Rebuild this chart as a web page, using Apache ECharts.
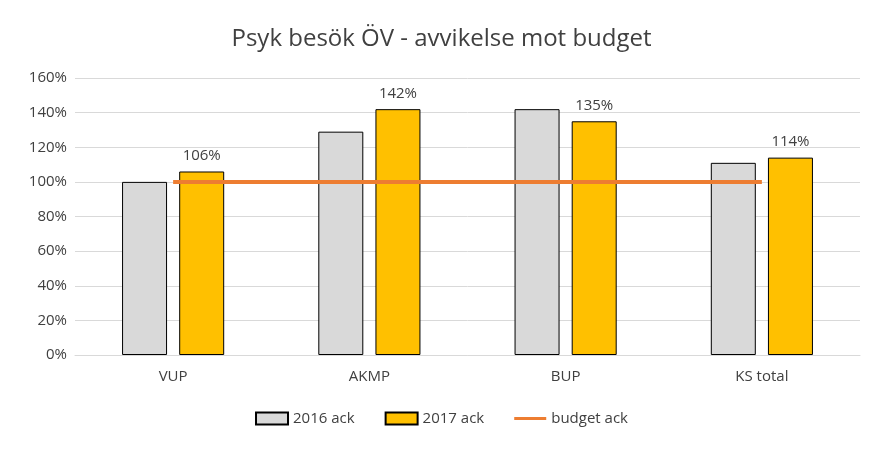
<!DOCTYPE html>
<html><head><meta charset="utf-8">
<script src="https://cdn.jsdelivr.net/npm/echarts@6/dist/echarts.min.js"></script>
<style>html,body{margin:0;padding:0;background:#fff}#c{width:883px;height:451px}</style>
</head><body><div id="c"></div>
<script>
const categories = ['VUP','AKMP','BUP','KS total'];
const ack2016 = [100,129,142,111];
const ack2017 = [106,142,135,114];
const budget = [100,100,100,100];
const font = 'Open Sans, Liberation Sans, sans-serif';
const chart = echarts.init(document.getElementById('c'));
chart.setOption({
  animation:false,
  title:{text:'Psyk besök ÖV - avvikelse mot budget',left:'center',top:22,textStyle:{fontFamily:font,fontSize:24,fontWeight:'normal',color:'#404040'}},
  legend:{bottom:20,itemGap:30,textStyle:{fontFamily:font,fontSize:15,color:'#404040'},
    data:[{name:'2016 ack',icon:'rect'},{name:'2017 ack',icon:'rect'},{name:'budget ack',icon:'path://M0,0H10V1H0Z'}],itemWidth:32,itemHeight:12},
  grid:{left:75,right:23,top:78,bottom:96},
  xAxis:{type:'category',data:categories,axisTick:{show:false},axisLine:{lineStyle:{color:'#d9d9d9'}},
    axisLabel:{fontFamily:font,fontSize:15,color:'#404040',margin:14}},
  yAxis:{type:'value',min:0,max:160,interval:20,axisLabel:{formatter:'{value}%',fontFamily:font,fontSize:15,color:'#404040'},
    splitLine:{lineStyle:{color:'#d9d9d9'}}},
  series:[
    {name:'2016 ack',type:'bar',data:ack2016,barWidth:45,barGap:'27%',itemStyle:{color:'#d9d9d9',borderColor:'#000',borderWidth:1}},
    {name:'2017 ack',type:'bar',data:ack2017,barWidth:45,itemStyle:{color:'#ffc000',borderColor:'#000',borderWidth:1},
      label:{show:true,position:'top',formatter:'{c}%',fontFamily:font,fontSize:15,color:'#404040',distance:8}},
    {name:'budget ack',type:'line',data:budget,symbol:'none',lineStyle:{color:'#ed7d31',width:4},itemStyle:{color:'#ed7d31'},z:5}
  ]
});
</script></body></html>
